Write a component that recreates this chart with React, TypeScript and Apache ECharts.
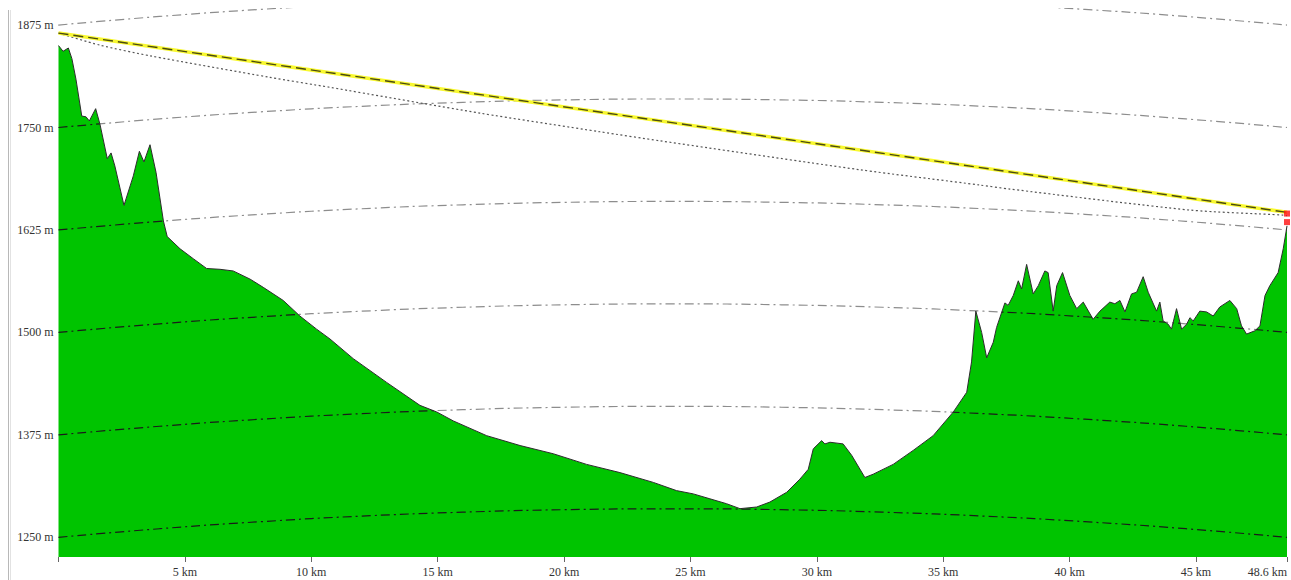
import React, { useEffect, useRef } from "react";
import * as echarts from "echarts";

// Terrain profile (distance in km, elevation in m)
const terrainKm = [
  0, 0.18, 0.39, 0.53, 0.69, 0.92, 1.09, 1.22, 1.47, 1.64,
  1.93, 2.08, 2.23, 2.59, 2.96, 3.2, 3.38, 3.62, 3.86, 4.15,
  4.3, 4.81, 5.33, 5.86, 6.39, 6.91, 7.58, 8.1, 8.89, 9.55,
  10.21, 10.74, 11.66, 12.98, 14.3, 14.96, 15.62, 16.94, 18.26, 19.57,
  20.89, 22.21, 23.53, 24.45, 25.11, 25.77, 26.43, 26.96, 27.62, 28.14,
  28.81, 29.33, 29.66, 29.86, 30.19, 30.32, 30.52, 31.04, 31.38, 31.9,
  32.23, 33.02, 33.81, 34.6, 35.4, 35.93, 36.12, 36.29, 36.52, 36.72,
  36.98, 37.11, 37.44, 37.57, 37.77, 37.97, 38.1, 38.3, 38.56, 38.76,
  39.02, 39.15, 39.35, 39.49, 39.72, 40.01, 40.28, 40.54, 40.93, 41.2,
  41.59, 41.79, 41.99, 42.19, 42.45, 42.65, 42.91, 43.11, 43.44, 43.57,
  43.7, 43.9, 44.03, 44.23, 44.43, 44.63, 44.76, 44.89, 45.15, 45.42,
  45.68, 45.94, 46.34, 46.61, 46.8, 47.0, 47.33, 47.53, 47.73, 47.92,
  48.25, 48.45, 48.58, 48.6,
];
const terrainElev = [
  1850, 1843, 1847, 1834, 1809, 1764, 1763, 1758, 1773, 1754,
  1712, 1719, 1703, 1655, 1691, 1721, 1708, 1729, 1695, 1636,
  1617, 1602, 1590, 1578, 1577, 1575, 1565, 1555, 1539, 1520,
  1504, 1492, 1468, 1439, 1411, 1403, 1392, 1374, 1362, 1352,
  1339, 1329, 1317, 1307, 1303, 1297, 1291, 1285, 1287, 1293,
  1305, 1321, 1333, 1358, 1368, 1364, 1366, 1364, 1350, 1323,
  1327, 1339, 1356, 1374, 1403, 1427, 1464, 1526, 1500, 1469,
  1488, 1506, 1536, 1533, 1545, 1563, 1553, 1583, 1547, 1557,
  1575, 1573, 1526, 1557, 1573, 1545, 1529, 1537, 1516, 1526,
  1537, 1535, 1539, 1525, 1547, 1549, 1568, 1549, 1526, 1537,
  1514, 1510, 1504, 1529, 1504, 1510, 1518, 1514, 1526, 1525,
  1520, 1531, 1539, 1529, 1508, 1498, 1502, 1508, 1545, 1557,
  1573, 1602, 1626, 1630,
];

// Earth-curvature reference lines: rise above each level along the path
const levels = [1250, 1375, 1500, 1625, 1750, 1875];
const curveKm = [0, 4, 8, 12, 16, 20, 24.3, 28.6, 32.6, 36.6, 40.6, 44.6, 48.6];
const curveRise = [0, 10.5, 19.1, 25.9, 30.7, 33.7, 34.8, 33.7, 30.7, 25.9, 19.1, 10.5, 0];

// Line of sight (straight) and the dotted sight curve
const sightKm = [0, 48.6];
const sightElev = [1865.2, 1646.5];
const dottedKm = [0, 1.64, 3.62, 8.37, 10.74, 16.67, 21.42, 23.79, 31.7, 36.45, 37.64, 44.76, 48.44, 48.6];
const dottedElev = [1865.2, 1850.5, 1837.5, 1811.2, 1799.0, 1767.6, 1744.8, 1733.8, 1698.5, 1679.8, 1674.9, 1649.3, 1643.2, 1642.6];

// End markers
const markerKm = [48.6, 48.6];
const markerElev = [1645, 1634.6];

// Axis ticks
const xTicks = [0, 5, 10, 15, 20, 25, 30, 35, 40, 45, 48.6];
const xLabels = [5, 10, 15, 20, 25, 30, 35, 40, 45, 48.6];
const yTicks = [1250, 1375, 1500, 1625, 1750, 1875];
const yMin = 1226;
const yMax = 1894.6;
const xMax = 48.6;

const FONT = "'Liberation Serif', 'DejaVu Serif', serif";

export default function App() {
  const ref = useRef<HTMLDivElement>(null);

  useEffect(() => {
    if (!ref.current) return;
    const chart = echarts.init(ref.current, undefined, { renderer: "svg" });
    const terrain = terrainKm.map((k, i) => [k, terrainElev[i]]);

    const curveSeries = levels.map((lv) => ({
      type: "line",
      name: `level-${lv}`,
      data: curveKm.map((k, i) => [k, lv + curveRise[i]]),
      smooth: true,
      symbol: "none",
      z: 3,
      silent: true,
      lineStyle: { color: "#1a1a1a", width: 1.2, type: [9, 4, 2, 4] },
    }));

    chart.setOption({
      animation: false,
      backgroundColor: "#ffffff",
      grid: { left: 58.5, right: 4, top: 9, bottom: 23 },
      xAxis: {
        type: "value",
        min: 0,
        max: xMax,
        axisLine: { show: false },
        splitLine: { show: false },
        axisTick: {
          show: true,
          length: 5,
          customValues: xTicks,
          lineStyle: { color: "#666", width: 1 },
        },
        axisLabel: {
          customValues: xLabels,
          formatter: (v: number) => `${v} km`,
          fontFamily: FONT,
          fontSize: 12,
          color: "#333",
          margin: 9,
          alignMaxLabel: "right",
        },
      },
      yAxis: {
        type: "value",
        min: yMin,
        max: yMax,
        axisLine: { show: false },
        axisTick: { show: false },
        splitLine: { show: false },
        axisLabel: {
          customValues: yTicks,
          formatter: (v: number) => `${v} m`,
          fontFamily: FONT,
          fontSize: 12,
          color: "#333",
          margin: 5,
        },
      },
      graphic: [
        {
          type: "line",
          shape: { x1: 8.5, y1: 10, x2: 8.5, y2: 580 },
          style: { stroke: "#b8b8b8", lineWidth: 1 },
          silent: true,
        },
        {
          type: "line",
          shape: { x1: 10.5, y1: 10, x2: 10.5, y2: 580 },
          style: { stroke: "#e2e2e2", lineWidth: 1 },
          silent: true,
        },
      ],
      series: [
        {
          type: "line",
          name: "terrain",
          data: terrain,
          symbol: "none",
          z: 1,
          lineStyle: { width: 0 },
          areaStyle: { color: "#00c400", opacity: 1, origin: "start" },
        },
        ...curveSeries,
        {
          type: "line",
          name: "sky",
          data: terrain,
          symbol: "none",
          z: 4,
          silent: true,
          lineStyle: { width: 0 },
          areaStyle: { color: "rgba(255,255,255,0.5)", opacity: 1, origin: "end" },
        },
        {
          type: "line",
          name: "outline",
          data: terrain,
          symbol: "none",
          z: 5,
          lineStyle: { color: "#2a2a2a", width: 1 },
        },
        {
          type: "line",
          name: "dotted",
          data: dottedKm.map((k, i) => [k, dottedElev[i]]),
          smooth: 0.25,
          symbol: "none",
          z: 6,
          lineStyle: { color: "#555", width: 1.2, type: [2, 2.5] },
        },
        {
          type: "line",
          name: "sight",
          data: sightKm.map((k, i) => [k, sightElev[i]]),
          symbol: "none",
          z: 7,
          lineStyle: { color: "#f8f830", width: 3.5 },
        },
        {
          type: "line",
          name: "sight-dash",
          data: sightKm.map((k, i) => [k, sightElev[i]]),
          symbol: "none",
          z: 8,
          lineStyle: { color: "#4a4a10", width: 1.4, type: [10, 5] },
        },
        {
          type: "scatter",
          name: "markers",
          data: markerKm.map((k, i) => [k, markerElev[i]]),
          symbol: "rect",
          symbolSize: [6, 6],
          z: 9,
          itemStyle: { color: "#ff1010" },
        },
      ],
    });

    return () => chart.dispose();
  }, []);

  return (
    <div
      ref={ref}
      style={{ position: "absolute", left: 0, top: 0, width: 1291, height: 580 }}
    />
  );
}
